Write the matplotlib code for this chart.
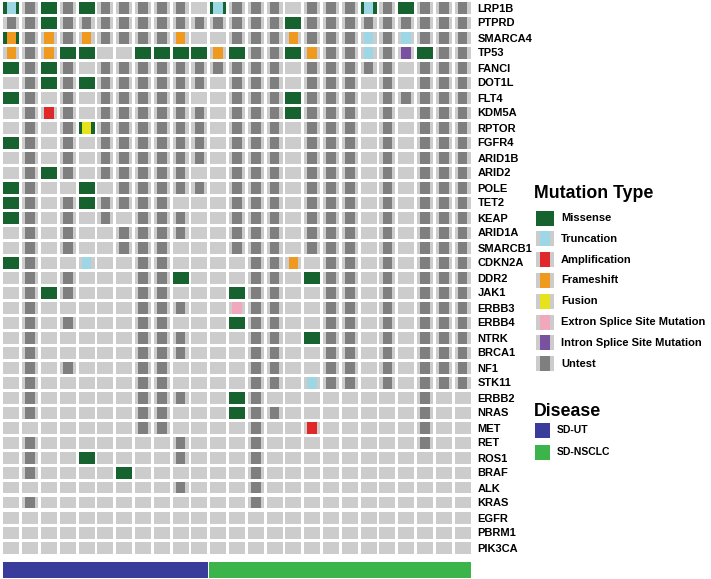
import matplotlib.pyplot as plt
from matplotlib.patches import Rectangle

plt.rcParams['font.family'] = ['Liberation Sans', 'DejaVu Sans']
plt.rcParams['font.weight'] = 'bold'

genes = ["LRP1B", "PTPRD", "SMARCA4", "TP53", "FANCI", "DOT1L", "FLT4", "KDM5A",
         "RPTOR", "FGFR4", "ARID1B", "ARID2", "POLE", "TET2", "KEAP", "ARID1A",
         "SMARCB1", "CDKN2A", "DDR2", "JAK1", "ERBB3", "ERBB4", "NTRK", "BRCA1",
         "NF1", "STK11", "ERBB2", "NRAS", "MET", "RET", "ROS1", "BRAF", "ALK",
         "KRAS", "EGFR", "PBRM1", "PIK3CA"]

# one char per sample: . tested/no mutation, u untest, M missense,
# T truncation, A amplification, F frameshift, Y fusion, E extron splice, I intron splice
# lower case = missense plus that event (t, f, y)
calls = [
    "tuMuMuuuuu.tuuu.uuutuMuuu",
    "uuMuuuuuuuuuuuuMuuuuuuuuu",
    "fuFuFuuuuF..uuuFuuuTuTuuu",
    "FuFMM..MMMMFMuuMFuuTuIMuu",
    "MuMu.uuuuuuuuuu.uuuuu.uuu",
    ".uMuMuuuuuu.uuu.uuu.u.uuu",
    "Mu.u.uuuuu..uuuMuuu.uuuuu",
    ".uAu.uuuuuu.uuuMuuu.u.uuu",
    ".u.uyuuuuuu.uuu.uuu.u.uuu",
    "Mu.u.uuuuuu.uuu.uuu.u.uuu",
    ".u.u.uuuuuu.uuu.uuu.u.uuu",
    ".uMu.uuuuu..uuu.uuu.u.uuu",
    "Mu..M.uuuuu.uuu.uuu.u.uuu",
    "Mu.uMuuuu...uuu.uuu.u.uuu",
    "Mu.u.u.uuu..uuu.uuu.u.uuu",
    ".u.u..uuuu..uuu.uuu.u.uuu",
    ".u.u..uuu...uuu.uuu.u.uuu",
    "Mu..T..uu....uuF.uu.u.uuu",
    ".u.u...uuM...uu.Muu.u.uuu",
    ".uMu...uu...Muu..uu.u.uuu",
    ".u.....uuu..Euu..uu.u.uuu",
    ".u.u...uu...Muu..uu.u.uuu",
    ".u.....uuu...uu.Muu.u.uuu",
    ".u.....uuu...uu..uu.u.uuu",
    ".u.u...uu....uu..uu.u.uuu",
    ".u.....uu....uu.Tuu.u.uuu",
    ".u.....uuu..Mu........u..",
    ".u.....uu...Muu.......u..",
    ".......uu....u..A.....u..",
    ".u.......u...u........u..",
    ".u..M....u...u...........",
    ".u....M......u...........",
    ".........u...u...........",
    ".u...........u...........",
    ".........................",
    ".........................",
    ".........................",
]

disease = ["SD-UT"] * 11 + ["SD-NSCLC"] * 14

mut_labels = ["Missense", "Truncation", "Amplification", "Frameshift", "Fusion",
              "Extron Splice Site Mutation", "Intron Splice Site Mutation", "Untest"]

GREEN = "#17632f"
LIGHT = "#cccccc"
inner_color = {"T": "#9dd7e5", "A": "#e0282b", "F": "#f0991f", "Y": "#e6e31d",
               "E": "#f2a8bc", "I": "#7a51a1", "u": "#7f7f7f"}
mut_codes = ["M", "T", "A", "F", "Y", "E", "I", "u"]
disease_color = {"SD-UT": "#3a3c9c", "SD-NSCLC": "#3bb54a"}

W, H = 711, 579
fig = plt.figure(figsize=(W / 100, H / 100), dpi=100)

n_s = len(disease)
n_g = len(genes)

ax = fig.add_axes([2 / W, (H - 555) / H, 470 / W, 555 / H])
ax.set_xlim(0, n_s)
ax.set_ylim(n_g, 0)

cw, ch = 0.85, 0.8
iw = 0.52
for r, row in enumerate(calls):
    for c, code in enumerate(row):
        x0 = c + (1 - cw) / 2
        y0 = r + (1 - ch) / 2
        base = GREEN if (code == "M" or code.islower() and code != "u") else LIGHT
        ax.add_patch(Rectangle((x0, y0), cw, ch, fc=base, ec="none"))
        key = code if code == "u" else code.upper()
        if key in inner_color:
            ax.add_patch(Rectangle((c + (1 - iw) / 2, y0), iw, ch,
                                   fc=inner_color[key], ec="none"))

ax.set_yticks([r + 0.5 for r in range(n_g)])
ax.set_yticklabels(genes, fontsize=8, fontweight="bold")
ax.yaxis.tick_right()
ax.tick_params(axis="y", length=0, pad=4)
ax.set_xticks([])
for s in ax.spines.values():
    s.set_visible(False)

# disease bar
dax = fig.add_axes([2 / W, 1 / H, 470 / W, 16 / H])
dax.set_xlim(0, n_s)
dax.set_ylim(0, 1)
dax.axis("off")
start = 0
for i in range(1, n_s + 1):
    if i == n_s or disease[i] != disease[start]:
        dax.add_patch(Rectangle((start + 0.03, 0.02), i - start - 0.06, 0.96,
                                fc=disease_color[disease[start]], ec="none"))
        start = i

# legends drawn in pixel space
lax = fig.add_axes([0, 0, 1, 1])
lax.set_xlim(0, W)
lax.set_ylim(H, 0)
lax.axis("off")

lax.text(534, 194, "Mutation Type", fontsize=12.8, fontweight="bold",
         va="center", ha="left")
for i, (lab, code) in enumerate(zip(mut_labels, mut_codes)):
    yc = 218 + i * 20.8
    if code == "M":
        lax.add_patch(Rectangle((536, yc - 7.5), 18, 15, fc=GREEN, ec="none"))
    else:
        lax.add_patch(Rectangle((536, yc - 7.5), 18, 15, fc=LIGHT, ec="none"))
        lax.add_patch(Rectangle((540, yc - 7.5), 10, 15, fc=inner_color[code], ec="none"))
    lax.text(561, yc, lab, fontsize=8, fontweight="bold", va="center", ha="left")

lax.text(534, 412, "Disease", fontsize=12.8, fontweight="bold", va="center", ha="left")
for i, d in enumerate(["SD-UT", "SD-NSCLC"]):
    yc = 430 + i * 22
    lax.add_patch(Rectangle((535, yc - 7.5), 15, 15, fc=disease_color[d], ec="none"))
    lax.text(557, yc, d, fontsize=7.5, fontweight="bold", va="center", ha="left")

fig.savefig("out.png", dpi=100)
